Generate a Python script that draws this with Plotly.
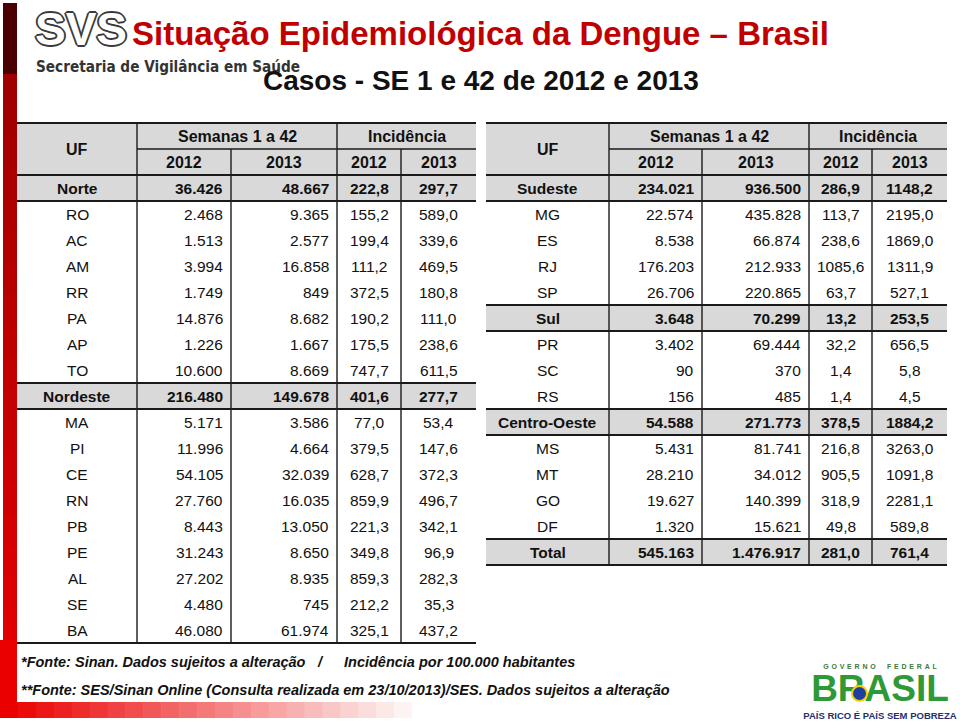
import plotly.graph_objects as go

# ---------------- data ----------------
uf_left = ["Norte", "RO", "AC", "AM", "RR", "PA", "AP", "TO", "Nordeste",
           "MA", "PI", "CE", "RN", "PB", "PE", "AL", "SE", "BA"]
cases2012_left = [36426, 2468, 1513, 3994, 1749, 14876, 1226, 10600, 216480,
                  5171, 11996, 54105, 27760, 8443, 31243, 27202, 4480, 46080]
cases2013_left = [48667, 9365, 2577, 16858, 849, 8682, 1667, 8669, 149678,
                  3586, 4664, 32039, 16035, 13050, 8650, 8935, 745, 61974]
inc2012_left = [222.8, 155.2, 199.4, 111.2, 372.5, 190.2, 175.5, 747.7, 401.6,
                77.0, 379.5, 628.7, 859.9, 221.3, 349.8, 859.3, 212.2, 325.1]
inc2013_left = [297.7, 589.0, 339.6, 469.5, 180.8, 111.0, 238.6, 611.5, 277.7,
                53.4, 147.6, 372.3, 496.7, 342.1, 96.9, 282.3, 35.3, 437.2]
regions_left = ["Norte", "Nordeste"]

uf_right = ["Sudeste", "MG", "ES", "RJ", "SP", "Sul", "PR", "SC", "RS",
            "Centro-Oeste", "MS", "MT", "GO", "DF", "Total"]
cases2012_right = [234021, 22574, 8538, 176203, 26706, 3648, 3402, 90, 156,
                   54588, 5431, 28210, 19627, 1320, 545163]
cases2013_right = [936500, 435828, 66874, 212933, 220865, 70299, 69444, 370, 485,
                   271773, 81741, 34012, 140399, 15621, 1476917]
inc2012_right = [286.9, 113.7, 238.6, 1085.6, 63.7, 13.2, 32.2, 1.4, 1.4,
                 378.5, 216.8, 905.5, 318.9, 49.8, 281.0]
inc2013_right = [1148.2, 2195.0, 1869.0, 1311.9, 527.1, 253.5, 656.5, 5.8, 4.5,
                 1884.2, 3263.0, 1091.8, 2281.1, 589.8, 761.4]
regions_right = ["Sudeste", "Sul", "Centro-Oeste", "Total"]

header_group = ["Semanas 1 a 42", "Incidência"]
header_years = ["2012", "2013"]

title = "Situação Epidemiológica da Dengue – Brasil"
subtitle = "Casos - SE 1 e 42 de 2012 e 2013"
note1a = "*Fonte: Sinan. Dados sujeitos a alteração"
note1b = "/"
note1c = "Incidência por 100.000 habitantes"
note2 = "**Fonte: SES/Sinan Online (Consulta realizada em 23/10/2013)/SES. Dados sujeitos a alteração"


def fmt_int(n):
    return f"{n:,}".replace(",", ".")


def fmt_dec(v):
    return f"{v:.1f}".replace(".", ",")


# ---------------- figure ----------------
fig = go.Figure()
fig.add_trace(go.Scatter(x=[0, 960], y=[0, 725], mode="markers",
                         marker=dict(opacity=0), hoverinfo="skip", showlegend=False))

shapes = []
annotations = []
FONT = "Liberation Sans, Arial, sans-serif"
GRAY = "#d9d9d9"
LINE = "#1a1a1a"
ROW_H = 26
DATA_SIZE = 15.5


def rect(x0, y0, x1, y1, color):
    shapes.append(dict(type="rect", xref="x", yref="y", x0=x0, y0=y0, x1=x1, y1=y1,
                       fillcolor=color, line=dict(width=0), layer="below"))


def hline(x0, x1, y, w):
    shapes.append(dict(type="line", xref="x", yref="y", x0=x0, x1=x1, y0=y, y1=y,
                       line=dict(color=LINE, width=w)))


def vline(x, y0, y1, w):
    shapes.append(dict(type="line", xref="x", yref="y", x0=x, x1=x, y0=y0, y1=y1,
                       line=dict(color=LINE, width=w)))


def text(x, y, s, size=15, bold=False, xanchor="center", color="#111111", italic=False,
         family=FONT, yanchor="middle"):
    annotations.append(dict(x=x, y=y, xref="x", yref="y", text=s, showarrow=False,
                            xanchor=xanchor, yanchor=yanchor, borderpad=0,
                            font=dict(family=family, size=size, color=color,
                                      weight="bold" if bold else "normal",
                                      style="italic" if italic else "normal")))


def draw_table(edges, top, names, c12, c13, i12, i13, regions):
    x_uf0, x_uf1, x_mid, x_inc0, x_incmid, x_end = edges
    hdr_mid = top + ROW_H
    body_top = top + 2 * ROW_H
    n = len(names)
    bottom = body_top + n * ROW_H
    rect(x_uf0, top, x_end, body_top, GRAY)
    for i, name in enumerate(names):
        if name in regions:
            rect(x_uf0, body_top + i * ROW_H, x_end, body_top + (i + 1) * ROW_H, GRAY)
    hline(x_uf0, x_end, top, 2)
    hline(x_uf1, x_end, hdr_mid, 1.6)
    hline(x_uf0, x_end, body_top, 2)
    vline(x_uf1, top, bottom, 1.4)
    vline(x_inc0, top, bottom, 1.4)
    vline(x_mid, hdr_mid, bottom, 1.4)
    vline(x_incmid, hdr_mid, bottom, 1.4)
    for i, name in enumerate(names):
        if name in regions:
            hline(x_uf0, x_end, body_top + i * ROW_H, 2)
            hline(x_uf0, x_end, body_top + (i + 1) * ROW_H, 2)
    hline(x_uf0, x_end, bottom, 2)
    text((x_uf0 + x_uf1) / 2, top + ROW_H, "UF", 16, True)
    text((x_uf1 + x_inc0) / 2, top + ROW_H / 2, header_group[0], 16, True)
    text((x_inc0 + x_end) / 2, top + ROW_H / 2, header_group[1], 16, True)
    text((x_uf1 + x_mid) / 2, hdr_mid + ROW_H / 2, header_years[0], 16, True)
    text((x_mid + x_inc0) / 2, hdr_mid + ROW_H / 2, header_years[1], 16, True)
    text((x_inc0 + x_incmid) / 2, hdr_mid + ROW_H / 2, header_years[0], 16, True)
    text((x_incmid + x_end) / 2, hdr_mid + ROW_H / 2, header_years[1], 16, True)
    for i, name in enumerate(names):
        yc = body_top + i * ROW_H + ROW_H / 2 + 0.5
        b = name in regions
        text((x_uf0 + x_uf1) / 2, yc, name, DATA_SIZE, b)
        text(x_mid - 7, yc, fmt_int(c12[i]), DATA_SIZE, b, "right")
        text(x_inc0 - 7, yc, fmt_int(c13[i]), DATA_SIZE, b, "right")
        text((x_inc0 + x_incmid) / 2, yc, fmt_dec(i12[i]), DATA_SIZE, b)
        text((x_incmid + x_end) / 2, yc, fmt_dec(i13[i]), DATA_SIZE, b)


# ---------------- decorations: left red frame ----------------
rect(3, 3, 17, 74, "#4a0000")
n_seg = 20
for k in range(n_seg):
    y0 = 74 + k * (630 / n_seg)
    y1 = y0 + 630 / n_seg + 0.5
    r = int(0xa0 + (0xe8 - 0xa0) * k / (n_seg - 1))
    rect(3, y0, 17, y1, f"rgb({r},0,0)")
rect(0, 640, 17, 718, "rgb(235,0,0)")
n_h = 24
for k in range(n_h):
    x0 = 0 + k * (430 / n_h)
    x1 = x0 + 430 / n_h + 0.5
    t = k / (n_h - 1)
    g = int(0 + 255 * t)
    rect(x0, 702, x1, 718, f"rgb({int(235 + 20 * t)},{g},{g})")

# ---------------- tables ----------------
draw_table([17, 137, 231, 337, 401, 476], 123, uf_left, cases2012_left, cases2013_left,
           inc2012_left, inc2013_left, regions_left)
draw_table([486, 609, 702, 809, 872, 947], 123, uf_right, cases2012_right, cases2013_right,
           inc2012_right, inc2013_right, regions_right)

# ---------------- titles / logo ----------------
annotations.append(dict(x=34, y=29, xref="x", yref="y", text="SVS", showarrow=False,
                        xanchor="left", yanchor="middle", borderpad=0,
                        font=dict(family="Liberation Sans, Arial", size=46,
                                  color="white", weight="bold",
                                  shadow="2px 0 0 #3a3a3a, -2px 0 0 #3a3a3a, 0 2px 0 #3a3a3a, 0 -2px 0 #3a3a3a, 1px 1px 0 #3a3a3a, -1px -1px 0 #3a3a3a, 1px -1px 0 #3a3a3a, -1px 1px 0 #3a3a3a")))
text(35, 67, "Secretaria de Vigilância em Saúde", 15.2, True, "left", "#333333",
     family="DejaVu Sans Condensed, DejaVu Sans, sans-serif")
text(131, 33, title, 33, True, "left", "#c00000")
text(481, 80, subtitle, 28, True, "center", "#111111")

# ---------------- footnotes ----------------
text(20, 662, note1a, 14.5, True, "left", "#111111", italic=True)
text(316, 662, note1b, 14.5, True, "left", "#111111", italic=True)
text(343, 662, note1c, 14.5, True, "left", "#111111", italic=True)
text(20, 690, note2, 14.5, True, "left", "#111111", italic=True)

# ---------------- Brasil logo (scatter text, tight boxes) ----------------
gov = "G O V E R N O    F E D E R A L".replace(" ", "\u2009\u2009")
logo_texts = [gov, "BRASIL", "PAÍS RICO É PAÍS SEM POBREZA"]
logo_y = [667, 692, 717]
logo_sizes = [7, 37, 9.5]
logo_colors = ["#3d7a3d", "#2f9a35", "#1f2f6f"]
for s, yy, fs, col in zip(logo_texts, logo_y, logo_sizes, logo_colors):
    fig.add_trace(go.Scatter(x=[880], y=[yy], mode="text", text=[s],
                             textposition="middle center", hoverinfo="skip", showlegend=False,
                             textfont=dict(family=FONT, size=fs, color=col, weight="bold")))
shapes.append(dict(type="circle", xref="x", yref="y", x0=852, x1=867, y0=686, y1=701,
                   fillcolor="#1f3f9f", line=dict(color="#f2d200", width=2)))

fig.update_layout(
    width=960, height=725,
    margin=dict(l=0, r=0, t=0, b=0),
    paper_bgcolor="white", plot_bgcolor="white",
    xaxis=dict(range=[0, 960], visible=False, fixedrange=True),
    yaxis=dict(range=[725, 0], visible=False, fixedrange=True),
    shapes=shapes, annotations=annotations, showlegend=False,
)
fig.write_html("out.html", post_script="document.body.style.margin='0';",
               config={"displayModeBar": False})
